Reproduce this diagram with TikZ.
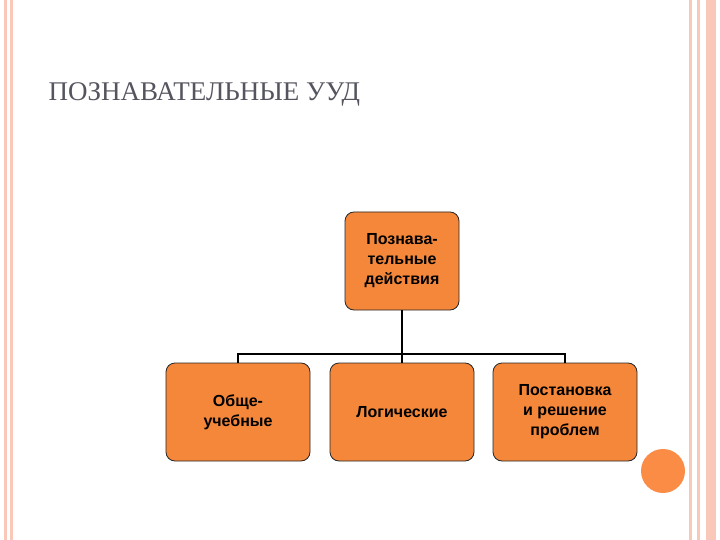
\documentclass[tikz,border=0pt]{standalone}
\usepackage{fontspec}
\setmainfont{Liberation Serif}
\newfontfamily\boxfont{Liberation Sans}
\definecolor{pinkb}{RGB}{250,200,185}
\definecolor{boxor}{RGB}{245,135,58}
\definecolor{dotor}{RGB}{250,140,70}
\definecolor{titleg}{RGB}{85,85,95}
\begin{document}
\begin{tikzpicture}[x=1pt,y=-1pt,
  box/.style={draw=black!85,line width=0.8pt,fill=boxor,rounded corners=9pt,align=center,font=\boxfont\bfseries\fontsize{16}{20}\selectfont,inner sep=0pt},
  conn/.style={line width=1.6pt,black}]
\path[use as bounding box] (0,0) rectangle (720,540);
\fill[white] (0,0) rectangle (720,540);
\fill[pinkb] (4,0) rectangle (13,540);
\fill[white] (7,0) rectangle (10,540);
\fill[pinkb] (689,0) rectangle (700,540);
\fill[white] (692,0) rectangle (697,540);
\fill[pinkb] (706,0) rectangle (716,540);
\node[anchor=base west,text=titleg,font=\fontsize{27}{30}\selectfont] (title) at (45,101) {ПОЗНАВАТЕЛЬНЫЕ УУД};
\node[box,minimum width=114pt,minimum height=98pt] (top) at (402,261) {Познава-\\тельные\\действия};
\node[box,minimum width=144pt,minimum height=98pt] (b1) at (238,412) {Обще-\\учебные};
\node[box,minimum width=144pt,minimum height=98pt] (b2) at (402,412) {Логические};
\node[box,minimum width=144pt,minimum height=98pt] (b3) at (565,412) {Постановка\\и решение\\проблем};
\coordinate (h) at (402,354);
\draw[conn] (top.south) -- (b2.north);
\draw[conn] (b1.north) |- (h) -| (b3.north);
\node[circle,fill=dotor,minimum size=44pt,inner sep=0pt] (dot) at (663,471) {};
\end{tikzpicture}
\end{document}
